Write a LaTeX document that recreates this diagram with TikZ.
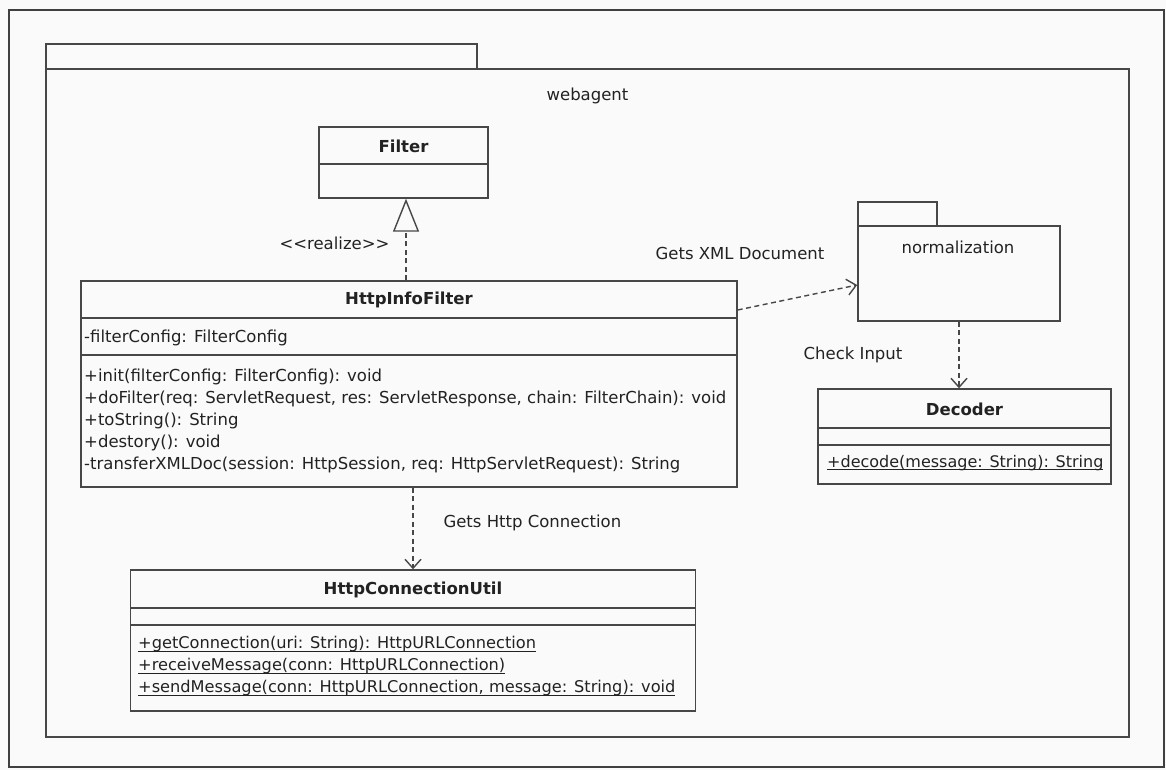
\documentclass[tikz,border=0pt]{standalone}
\usepackage{fontspec}
\setmainfont{DejaVu Sans}
\usetikzlibrary{arrows.meta,positioning}

\definecolor{umlline}{HTML}{474747}
\definecolor{umltext}{HTML}{222222}
\definecolor{scanbg}{HTML}{FAFAFA}

% underline close to the baseline, as for static members
\newcommand\umlul[1]{\setbox0\hbox{#1}\rlap{\rule[-2.8pt]{\wd0}{1pt}}\box0}

\tikzset{
  classbox/.style={draw=umlline, line width=1.4pt, inner sep=0pt},
  pkgbox/.style={draw=umlline, line width=1.7pt, inner sep=0pt},
  sepline/.style={umlline, line width=1.4pt},
  tabline/.style={umlline, line width=1.7pt},
  classname/.style={font=\bfseries\fontsize{16.5}{22}\selectfont},
  member/.style={anchor=west, align=left, inner sep=0pt},
  depend/.style={umlline, line width=1.4pt, dash pattern=on 5pt off 3.5pt,
    -{Straight Barb[length=9pt,width=16pt]}},
  realize/.style={umlline, line width=1.4pt, dash pattern=on 5pt off 3.5pt,
    -{Triangle[open,length=33pt,width=26pt]}},
}

\begin{document}
\begin{tikzpicture}[x=1pt,y=-1pt,
    every node/.style={text=umltext, font=\fontsize{16.5}{22}\selectfont}]
  \useasboundingbox (0,0) rectangle (1166,770);
  \fill[scanbg] (0,0) rectangle (1166,770);

  % Scan frame
  \draw[black!75, line width=1.2pt] (9,10) rectangle (1164,767);

  % Package webagent
  \draw[tabline] (46,69) -- (46,44) -- (477,44) -- (477,69);
  \node[pkgbox, minimum width=1083pt, minimum height=668pt] (webagent) at (587.5,403) {};
  \node (webagent-name) at (587.5,96) {webagent};

  % Filter
  \node[classbox, minimum width=169pt, minimum height=71pt] (filter) at (403.5,162.5) {};
  \draw[sepline] (319,164) -- (488,164);
  \node[classname] (filter-name) at (403.5,146) {Filter};

  % HttpInfoFilter
  \node[classbox, minimum width=656pt, minimum height=206pt] (ifilter) at (409,384) {};
  \draw[sepline] (81,318) -- (737,318);
  \draw[sepline] (81,355) -- (737,355);
  \node[classname] (ifilter-name) at (409,300) {HttpInfoFilter};
  \node[member] (ifilter-attr) at (84,338) {-filterConfig: FilterConfig};
  \node[member] (ifilter-ops) at (84,420.5) {+init(filterConfig: FilterConfig): void\\
    +doFilter(req: ServletRequest, res: ServletResponse, chain: FilterChain): void\\
    +toString(): String\\
    +destory(): void\\
    -transferXMLDoc(session: HttpSession, req: HttpServletRequest): String};

  % Package normalization
  \draw[tabline] (858,226) -- (858,202) -- (937,202) -- (937,226);
  \node[pkgbox, minimum width=202pt, minimum height=95pt] (norm) at (959,273.5) {};
  \node (norm-name) at (958,247) {normalization};

  % Decoder
  \node[classbox, minimum width=293pt, minimum height=95pt] (decoder) at (964.5,436.5) {};
  \draw[sepline] (818,428) -- (1111,428);
  \draw[sepline] (818,445) -- (1111,445);
  \node[classname] (decoder-name) at (964.5,409) {Decoder};
  \node[member, font=\fontsize{16}{22}\selectfont] (decoder-ops) at (827,463)
    {\umlul{+decode(message: String): String}};

  % HttpConnectionUtil
  \node[classbox, minimum width=565pt, minimum height=141pt] (hcu) at (413,640.5) {};
  \draw[sepline] (130.5,608) -- (695.5,608);
  \draw[sepline] (130.5,625) -- (695.5,625);
  \node[classname] (hcu-name) at (413,590) {HttpConnectionUtil};
  \node[member, font=\fontsize{16.2}{22}\selectfont] (hcu-ops) at (138,666.5)
    {\umlul{+getConnection(uri: String): HttpURLConnection}\\
    \umlul{+receiveMessage(conn: HttpURLConnection)}\\
    \umlul{+sendMessage(conn: HttpURLConnection, message: String): void}};

  % Relations
  \draw[realize] ([xshift=-3pt]ifilter.north) -- ([xshift=2.5pt]filter.south);
  \node[anchor=east] (realize-label) at (393,243) {{<}{<}realize{>}{>}};

  \draw[depend] ([yshift=74pt]ifilter.east) -- ([yshift=-11.5pt]norm.west);
  \node (xml-label) at (740,253) {Gets XML Document};

  \draw[depend] (norm.south) -- (norm.south |- decoder.north);
  \node (check-label) at (853,355) {Check Input};

  \draw[depend] (hcu.north |- ifilter.south) -- (hcu.north);
  \node[anchor=west] (http-label) at (440,523) {Gets Http Connection};
\end{tikzpicture}
\end{document}
